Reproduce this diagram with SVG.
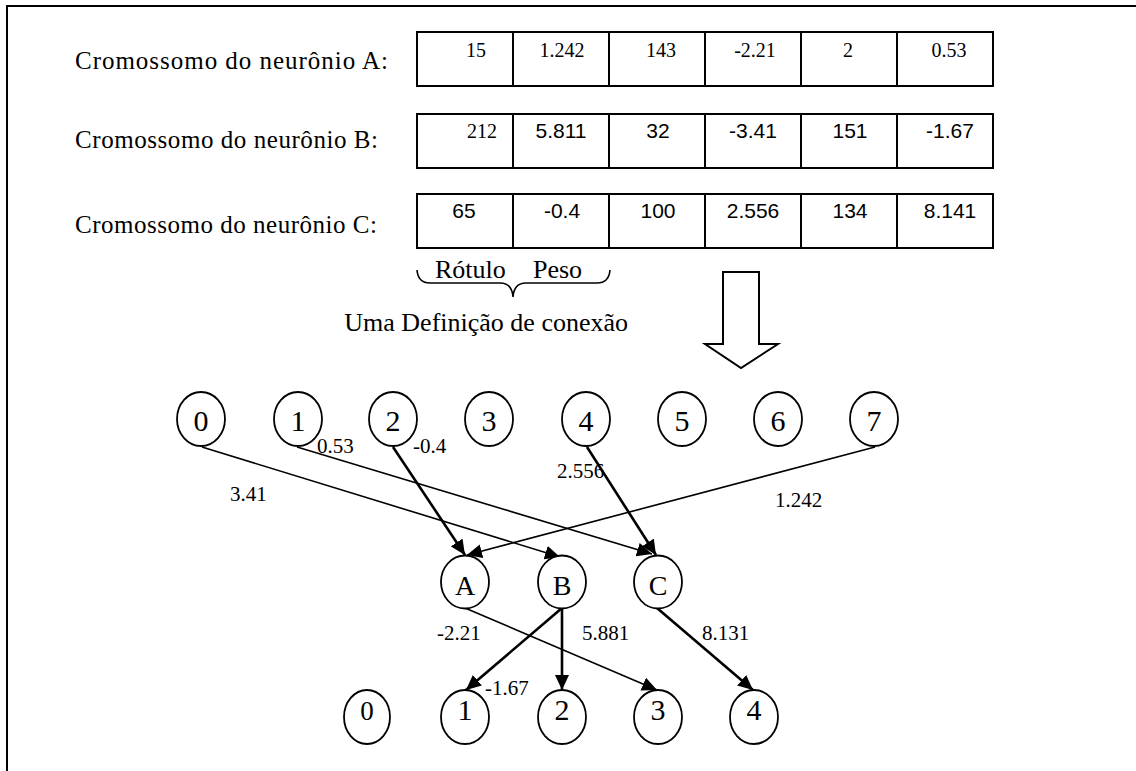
<svg xmlns="http://www.w3.org/2000/svg" width="1136" height="771" viewBox="0 0 1136 771">
  <style>
    .frame { fill: none; stroke: #000; stroke-width: 2; }
    .cell { fill: #fff; stroke: #000; stroke-width: 2; }
    .serif { font-family: "Liberation Serif", "Times New Roman", serif; fill: #000; }
    .sans { font-family: "Liberation Sans", Arial, sans-serif; fill: #000; }
    .head { font-size: 25px; }
    .num { font-size: 20px; text-anchor: middle; }
    .numsans { font-size: 21px; text-anchor: middle; }
    .note { font-size: 26px; }
    .node ellipse { fill: #fff; stroke: #000; stroke-width: 1.8; }
    .node text { font-family: "Liberation Serif", "Times New Roman", serif; font-size: 30px; text-anchor: middle; fill: #000; }
    .edge { fill: none; stroke: #000; stroke-width: 1.6; }
    .edge.bold { stroke-width: 2.6; }
    .wlabel { font-family: "Liberation Serif", "Times New Roman", serif; font-size: 21px; fill: #000; }
  </style>
  <defs>
    <marker id="tip" markerUnits="userSpaceOnUse" markerWidth="16" markerHeight="14" refX="15" refY="7" orient="auto">
      <path d="M0,0 L15,7 L0,14 z" fill="#000"/>
    </marker>
  </defs>

  <rect width="1136" height="771" fill="#fff"/>

  <!-- page border (top and left edges) -->
  <path class="frame" d="M7,771 L7,6 L1136,6"/>

  <!-- chromosome rows -->
  <g id="chromosomes">
    <text class="serif head" x="75" y="69" textLength="313" lengthAdjust="spacing">Cromossomo do neurônio A:</text>
    <text class="serif head" x="75" y="148" textLength="303" lengthAdjust="spacing">Cromossomo do neurônio B:</text>
    <text class="serif head" x="75" y="233" textLength="302" lengthAdjust="spacing">Cromossomo do neurônio C:</text>

    <g id="row-a">
      <rect class="cell" x="417" y="32" width="96" height="54"/>
      <rect class="cell" x="513" y="32" width="96" height="54"/>
      <rect class="cell" x="609" y="32" width="96" height="54"/>
      <rect class="cell" x="705" y="32" width="96" height="54"/>
      <rect class="cell" x="801" y="32" width="96" height="54"/>
      <rect class="cell" x="897" y="32" width="96" height="54"/>
      <text class="serif num" x="476" y="57">15</text>
      <text class="serif num" x="562" y="57">1.242</text>
      <text class="serif num" x="661" y="57">143</text>
      <text class="serif num" x="755" y="57">-2.21</text>
      <text class="serif num" x="848" y="57">2</text>
      <text class="serif num" x="949" y="57">0.53</text>
    </g>

    <g id="row-b">
      <rect class="cell" x="417" y="114" width="96" height="54"/>
      <rect class="cell" x="513" y="114" width="96" height="54"/>
      <rect class="cell" x="609" y="114" width="96" height="54"/>
      <rect class="cell" x="705" y="114" width="96" height="54"/>
      <rect class="cell" x="801" y="114" width="96" height="54"/>
      <rect class="cell" x="897" y="114" width="96" height="54"/>
      <text class="serif num" x="482" y="138">212</text>
      <text class="sans numsans" x="561" y="138">5.811</text>
      <text class="sans numsans" x="658" y="138">32</text>
      <text class="sans numsans" x="753" y="138">-3.41</text>
      <text class="sans numsans" x="850" y="138">151</text>
      <text class="sans numsans" x="950" y="138">-1.67</text>
    </g>

    <g id="row-c">
      <rect class="cell" x="417" y="194" width="96" height="54"/>
      <rect class="cell" x="513" y="194" width="96" height="54"/>
      <rect class="cell" x="609" y="194" width="96" height="54"/>
      <rect class="cell" x="705" y="194" width="96" height="54"/>
      <rect class="cell" x="801" y="194" width="96" height="54"/>
      <rect class="cell" x="897" y="194" width="96" height="54"/>
      <text class="sans numsans" x="464" y="218">65</text>
      <text class="sans numsans" x="562" y="218">-0.4</text>
      <text class="sans numsans" x="658" y="218">100</text>
      <text class="sans numsans" x="753" y="218">2.556</text>
      <text class="sans numsans" x="850" y="218">134</text>
      <text class="sans numsans" x="950" y="218">8.141</text>
    </g>
  </g>

  <!-- brace marking one connection definition -->
  <g id="brace">
    <text class="serif note" x="435" y="278">Rótulo</text>
    <text class="serif note" x="533" y="278">Peso</text>
    <path d="M417,270 Q418,283 430,283 L500,283 Q512,283 513,297 Q514,283 526,283 L597,283 Q609,283 610,270" fill="none" stroke="#000" stroke-width="1.6"/>
    <text class="serif note" x="628" y="331" text-anchor="end">Uma Definição de conexão</text>
  </g>

  <!-- hollow down arrow -->
  <g id="down-arrow">
    <polygon points="723,272 759,272 759,344 778,344 741,368 705,344 723,344" fill="#fff" stroke="#000" stroke-width="2"/>
  </g>

  <!-- connections -->
  <g id="connectors">
    <path class="edge" d="M202,447 L560,557" marker-end="url(#tip)"/>
    <path class="edge" d="M297,447 L652,554" marker-end="url(#tip)"/>
    <path class="edge bold" d="M393,447 L465,555" marker-end="url(#tip)"/>
    <path class="edge" d="M875,447 L467,555" marker-end="url(#tip)"/>
    <path class="edge bold" d="M587,447 L656,555" marker-end="url(#tip)"/>

    <path class="edge" d="M465,608 L657,690" marker-end="url(#tip)"/>
    <path class="edge bold" d="M562,608 L466,690" marker-end="url(#tip)"/>
    <path class="edge bold" d="M562,608 L562,690" marker-end="url(#tip)"/>
    <path class="edge bold" d="M657,608 L753,690" marker-end="url(#tip)"/>

    <text class="wlabel" x="317" y="453">0.53</text>
    <text class="wlabel" x="413" y="453">-0.4</text>
    <text class="wlabel" x="230" y="501">3.41</text>
    <text class="wlabel" x="557" y="478">2.556</text>
    <text class="wlabel" x="775" y="507">1.242</text>
    <text class="wlabel" x="437" y="640">-2.21</text>
    <text class="wlabel" x="582" y="640">5.881</text>
    <text class="wlabel" x="702" y="640">8.131</text>
    <text class="wlabel" x="485" y="695">-1.67</text>
  </g>

  <!-- input layer -->
  <g id="in-0" class="node"><ellipse cx="201" cy="419" rx="24" ry="27"/><text x="201" y="431">0</text></g>
  <g id="in-1" class="node"><ellipse cx="298" cy="419" rx="24" ry="27"/><text x="298" y="431">1</text></g>
  <g id="in-2" class="node"><ellipse cx="393" cy="419" rx="24" ry="27"/><text x="393" y="431">2</text></g>
  <g id="in-3" class="node"><ellipse cx="489" cy="419" rx="24" ry="27"/><text x="489" y="431">3</text></g>
  <g id="in-4" class="node"><ellipse cx="586" cy="419" rx="24" ry="27"/><text x="586" y="431">4</text></g>
  <g id="in-5" class="node"><ellipse cx="682" cy="419" rx="24" ry="27"/><text x="682" y="431">5</text></g>
  <g id="in-6" class="node"><ellipse cx="778" cy="419" rx="24" ry="27"/><text x="778" y="431">6</text></g>
  <g id="in-7" class="node"><ellipse cx="874" cy="419" rx="24" ry="27"/><text x="874" y="431">7</text></g>

  <!-- hidden neurons -->
  <g id="n-A" class="node"><ellipse cx="465" cy="582" rx="24" ry="26.5"/><text x="465" y="595" style="font-size:28px">A</text></g>
  <g id="n-B" class="node"><ellipse cx="562" cy="582" rx="24" ry="26.5"/><text x="562" y="595" style="font-size:28px">B</text></g>
  <g id="n-C" class="node"><ellipse cx="658" cy="582" rx="24" ry="26.5"/><text x="658" y="595" style="font-size:28px">C</text></g>

  <!-- output layer -->
  <g id="out-0" class="node"><ellipse cx="367" cy="717" rx="23" ry="27"/><text x="367" y="720" style="font-size:27px">0</text></g>
  <g id="out-1" class="node"><ellipse cx="465" cy="717" rx="24" ry="27"/><text x="465" y="720">1</text></g>
  <g id="out-2" class="node"><ellipse cx="562" cy="717" rx="24" ry="27"/><text x="562" y="720">2</text></g>
  <g id="out-3" class="node"><ellipse cx="658" cy="717" rx="24" ry="27"/><text x="658" y="720">3</text></g>
  <g id="out-4" class="node"><ellipse cx="754" cy="717" rx="24" ry="27"/><text x="754" y="720">4</text></g>
</svg>
